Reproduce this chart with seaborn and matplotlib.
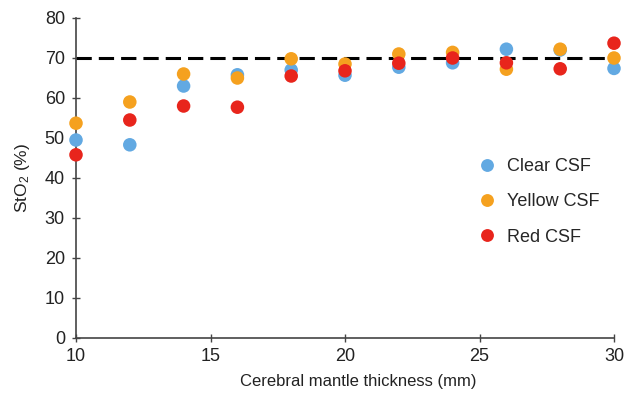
import numpy as np
import pandas as pd
import matplotlib
matplotlib.use('Agg')
import matplotlib.pyplot as plt
import seaborn as sns

# Data
thickness = [10, 12, 14, 16, 18, 20, 22, 24, 26, 28, 30]
clear_csf = [49.5, 48.3, 63.0, 65.8, 67.0, 65.7, 67.7, 68.8, 72.2, 72.0, 67.4]
yellow_csf = [53.7, 59.0, 66.0, 65.0, 69.8, 68.5, 71.0, 71.4, 67.2, 72.2, 70.0]
red_csf = [45.8, 54.5, 58.0, 57.7, 65.5, 66.8, 68.7, 70.0, 68.8, 67.3, 73.7]
threshold = 70

df = pd.DataFrame({
    'thickness': thickness * 3,
    'sto2': clear_csf + yellow_csf + red_csf,
    'group': ['Clear CSF'] * 11 + ['Yellow CSF'] * 11 + ['Red CSF'] * 11,
})

sns.set_style('white')
plt.rcParams['font.family'] = ['Liberation Sans', 'DejaVu Sans']
plt.rcParams['mathtext.default'] = 'regular'

fig = plt.figure(figsize=(6.25, 3.96), dpi=100)
ax = fig.add_axes([76 / 625, 58 / 396, 538 / 625, 320 / 396])

palette = {'Clear CSF': '#62a9e2', 'Yellow CSF': '#f5a11f', 'Red CSF': '#e8251c'}
sns.scatterplot(data=df, x='thickness', y='sto2', hue='group', palette=palette,
                s=95, edgecolor='none', ax=ax, zorder=3, clip_on=False)

ax.axhline(threshold, color='black', linestyle=(0, (5, 2.3)), linewidth=2.2, zorder=2)

ax.set_xlim(10, 30)
ax.set_ylim(0, 80)
ax.set_xticks([10, 15, 20, 25, 30])
ax.set_yticks(range(0, 81, 10))
ax.tick_params(axis='both', bottom=True, left=True, direction='inout', length=6,
               width=1, color='#444444', labelsize=13, labelcolor='#222222')
ax.tick_params(axis='x', pad=4)
ax.tick_params(axis='y', pad=5)
for side in ['top', 'right']:
    ax.spines[side].set_visible(False)
for side in ['left', 'bottom']:
    ax.spines[side].set_color('#444444')
    ax.spines[side].set_linewidth(1.2)

ax.set_xlabel('Cerebral mantle thickness (mm)', fontsize=12, color='#222222', labelpad=7)
ax.xaxis.label.set_x(0.525)
ax.set_ylabel('StO$_2$ (%)', fontsize=12.5, color='#222222', labelpad=9)

leg = ax.legend(loc='center left', bbox_to_anchor=(0.7, 0.425), frameon=False,
                fontsize=13, labelspacing=1.0, handletextpad=0.1, markerscale=0.95)

fig.savefig('out.png', dpi=100)
